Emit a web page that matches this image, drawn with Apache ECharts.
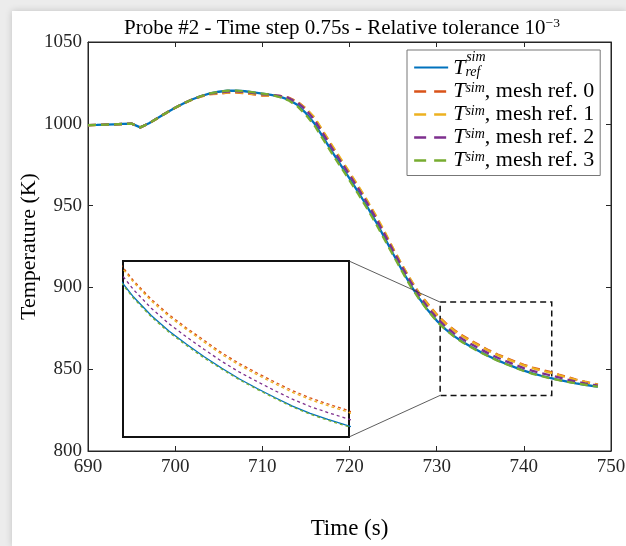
<!DOCTYPE html>
<html><head><meta charset="utf-8">
<script src="https://cdn.jsdelivr.net/npm/echarts@6/dist/echarts.min.js"></script>
<style>
html,body{margin:0;padding:0;background:#ececec;width:626px;height:546px;overflow:hidden}
#c{position:absolute;left:12px;top:11px;width:614px;height:535px;background:#fff;box-shadow:0 0 7px rgba(0,0,0,0.18)}
</style></head><body><div id="c"></div>
<script>
// ---- data ----
const time = [690,691,692,693,694,695,696,697,698,699,700,701,702,703,704,705,706,707,708,709,710,711,712,713,714,715,716,717,718,719,720,721,722,723,724,725,726,727,728,729,730,731,732,733,734,735,736,737,738,739,740,741,742,743,744,745,746,747,748,748.5];
const tRef = [999.2,999.3,999.5,999.7,999.9,1000.1,997.8,1000.3,1003.6,1006.8,1009.8,1012.6,1015.0,1017.0,1018.6,1019.6,1020.2,1020.3,1019.9,1019.2,1018.5,1017.7,1016.6,1014.8,1011.6,1006.5,1000.0,991.5,983.0,974.8,966.6,958.3,949.6,940.4,930.6,920.6,910.8,901.6,893.3,886.0,879.7,874.5,870.2,866.6,863.5,860.6,857.9,855.4,853.2,851.1,849.1,847.4,846.0,844.7,843.5,842.4,841.4,840.5,839.7,839.3];
const tMesh0 = [999.2,999.3,999.5,999.7,999.9,1000.1,997.8,1000.3,1003.6,1006.8,1009.8,1012.6,1015.0,1016.8,1018.1,1018.4,1019.0,1019.1,1018.7,1018.0,1017.3,1017.2,1017.1,1016.0,1013.6,1009.3,1003.2,994.7,986.2,978.0,969.8,961.5,952.8,943.6,933.8,923.6,913.8,904.6,896.3,889.8,883.5,878.3,874.0,870.4,867.3,864.4,861.5,859.0,856.8,854.7,852.7,851.0,849.6,848.3,846.7,845.2,843.7,842.4,841.2,840.6];
const tMesh1 = [999.1,999.2,999.4,999.6,999.8,1000.0,997.8,1000.2,1003.4,1006.6,1009.6,1012.4,1014.8,1016.8,1018.1,1018.6,1019.2,1019.3,1018.9,1018.2,1017.5,1017.2,1016.9,1015.8,1013.4,1009.3,1003.8,995.3,986.8,978.6,970.4,962.1,953.4,944.2,934.4,923.9,914.1,904.9,896.3,889.4,883.1,877.9,873.6,870.0,866.9,864.0,861.1,858.6,856.4,854.3,852.3,850.6,849.2,847.9,846.4,844.9,843.5,842.2,841.0,840.4];
const tMesh2 = [999.2,999.3,999.5,999.7,999.9,1000.1,997.8,1000.3,1003.6,1006.8,1009.8,1012.6,1015.0,1017.0,1018.4,1019.1,1019.7,1019.8,1019.4,1018.7,1018.0,1017.7,1017.1,1015.8,1013.1,1008.5,1002.2,993.7,985.2,977.0,968.8,960.5,951.8,942.6,932.8,922.6,912.8,903.6,895.1,887.7,881.4,876.2,871.9,868.3,865.2,862.3,859.5,857.0,854.8,852.7,850.7,849.0,847.6,846.3,845.0,843.7,842.5,841.4,840.4,839.9];
const tMesh3 = [999.2,999.3,999.5,999.7,999.9,1000.1,997.8,1000.3,1003.6,1006.8,1009.8,1012.6,1015.0,1017.0,1018.6,1019.6,1020.2,1020.3,1019.9,1019.2,1018.5,1017.7,1016.3,1014.3,1010.8,1005.5,998.8,990.3,981.8,973.6,965.4,957.1,948.4,939.2,929.4,919.8,910.0,900.8,892.8,885.7,879.4,874.2,869.9,866.3,863.2,860.3,857.7,855.2,853.0,850.9,848.9,847.2,845.8,844.5,843.3,842.2,841.3,840.5,839.7,839.3];
const seriesNames = ['ref','m0','m1','m2','m3'];
const seriesValues = [tRef,tMesh0,tMesh1,tMesh2,tMesh3];
const xTicks = {min:690,max:750,step:10};
const yTicks = {min:800,max:1050,step:50};
const zoomBox = {x0:730.4,x1:743.2,y0:834,y1:891};      // dashed region (data coords)
const insetRange = {x0:730.4,x1:743.2,y0:841.9,y1:882.9}; // inset axes range

// ---- styles ----
const colors = ['#0072BD','#D95319','#EDB120','#7E2F8E','#77AC30'];
const FONT = '"Liberation Serif", serif';
const AX = '#262626';

function pairs(v){ return time.map((t,i)=>[t,v[i]]); }

const chart = echarts.init(document.getElementById('c'), null, {renderer:'canvas'});

const series = [];
seriesNames.forEach((n,i)=>{
  series.push({
    name:n, type:'line', xAxisIndex:0, yAxisIndex:0, data:pairs(seriesValues[i]),
    symbol:'none', showSymbol:false, animation:false, clip:true,
    lineStyle:{color:colors[i], width:2.3, type: i===0?'solid':[8,5]},
    itemStyle:{color:colors[i]},
    markArea: i===0 ? {silent:true, itemStyle:{color:'rgba(0,0,0,0)', borderColor:'#111', borderWidth:1.5, borderType:[6,4]},
      data:[[{coord:[zoomBox.x0,zoomBox.y1]},{coord:[zoomBox.x1,zoomBox.y0]}]]} : undefined
  });
});
seriesNames.forEach((n,i)=>{
  series.push({
    name:n, type:'line', xAxisIndex:2, yAxisIndex:2, data:pairs(seriesValues[i]),
    symbol:'none', showSymbol:false, animation:false, clip:true, z:4,
    lineStyle:{color:colors[i], width:1.3, type: i===0?'solid':[3,3]},
    itemStyle:{color:colors[i]}
  });
});

const labelRich = {
  T:{fontFamily:FONT, fontStyle:'italic', fontSize:22, color:'#000', lineHeight:21},
  sup:{fontFamily:FONT, fontStyle:'italic', fontSize:14, color:'#000', verticalAlign:'top', lineHeight:21},
  sup0:{fontFamily:FONT, fontStyle:'italic', fontSize:14, color:'#000', lineHeight:2},
  gap:{width:13, lineHeight:2},
  sub:{fontFamily:FONT, fontStyle:'italic', fontSize:14, color:'#000', verticalAlign:'bottom', lineHeight:21},
  t:{fontFamily:FONT, fontSize:22, color:'#000', lineHeight:21}
};
const dashLegend = {type:[12,8], width:2.3};

const option = {
  animation:false,
  backgroundColor:'#fff',
  title:{
    text:'{a|Probe #2 - Time step 0.75s - Relative tolerance 10}{s|−3}',
    left:325, top:0, textAlign:'center',
    textStyle:{fontWeight:'normal', rich:{
      a:{fontFamily:FONT, fontSize:21, fontWeight:'normal', color:'#000', lineHeight:24},
      s:{fontFamily:FONT, fontSize:13.5, fontWeight:'normal', color:'#000', verticalAlign:'top', lineHeight:24}
    }}
  },
  legend:{
    orient:'vertical', left:395, top:39,
    data:seriesNames.map((n,i)=> i===0 ? {name:n} : {name:n, lineStyle:dashLegend}),
    itemWidth:34, itemHeight:14, itemGap:1,
    padding:[0,6,4,6],
    itemStyle:{opacity:0},
    borderColor:'#777', borderWidth:1, backgroundColor:'#fff',
    formatter:function(n){
      if(n==='ref') return '{gap|}{sup0|sim}\n{T|T}{sub|ref}';
      return '{T|T}{sup|sim}{t|, mesh ref. '+n.slice(1)+'}';
    },
    textStyle:{rich:labelRich}
  },
  grid:[
    {left:76, top:31, width:523, height:409, show:true, borderColor:AX, borderWidth:1, outerBoundsMode:'none', containLabel:false},
    {left:111, top:250, width:226, height:176, show:true, borderColor:'#111', borderWidth:2, backgroundColor:'#fff', outerBoundsMode:'none', containLabel:false}
  ],
  xAxis:[
    {gridIndex:0, type:'value', min:xTicks.min, max:xTicks.max, interval:xTicks.step, position:'bottom',
     name:'Time (s)', nameLocation:'middle', nameGap:66,
     nameTextStyle:{fontFamily:FONT, fontSize:23, color:'#000'},
     axisLine:{lineStyle:{color:AX}}, axisTick:{inside:true, length:5, lineStyle:{color:AX}},
     axisLabel:{fontFamily:FONT, fontSize:19, color:AX, margin:7, formatter:v=>String(v)}, splitLine:{show:false}},
    {gridIndex:0, type:'value', min:xTicks.min, max:xTicks.max, interval:xTicks.step, position:'top',
     axisLine:{lineStyle:{color:AX}}, axisTick:{inside:true, length:5, lineStyle:{color:AX}},
     axisLabel:{show:false}, splitLine:{show:false}},
    {gridIndex:1, type:'value', min:insetRange.x0, max:insetRange.x1, show:false, splitLine:{show:false}}
  ],
  yAxis:[
    {gridIndex:0, type:'value', min:yTicks.min, max:yTicks.max, interval:yTicks.step, position:'left',
     name:'Temperature (K)', nameLocation:'middle', nameGap:48, nameMoveOverlap:false,
     nameTextStyle:{fontFamily:FONT, fontSize:22, color:'#000'},
     axisLine:{show:true, lineStyle:{color:AX}}, axisTick:{show:true, inside:true, length:5, lineStyle:{color:AX}},
     axisLabel:{fontFamily:FONT, fontSize:19, color:AX, margin:6, formatter:v=>String(v)}, splitLine:{show:false}},
    {gridIndex:0, type:'value', min:yTicks.min, max:yTicks.max, interval:yTicks.step, position:'right',
     axisLine:{show:true, lineStyle:{color:AX}}, axisTick:{show:true, inside:true, length:5, lineStyle:{color:AX}},
     axisLabel:{show:false}, splitLine:{show:false}},
    {gridIndex:1, type:'value', min:insetRange.y0, max:insetRange.y1, show:false, splitLine:{show:false}}
  ],
  series:series
};
chart.setOption(option);

// connector lines between inset and zoomed region
const pBoxTL = chart.convertToPixel({xAxisIndex:0, yAxisIndex:0}, [zoomBox.x0, zoomBox.y1]);
const pBoxBL = chart.convertToPixel({xAxisIndex:0, yAxisIndex:0}, [zoomBox.x0, zoomBox.y0]);
const pInTR = chart.convertToPixel({xAxisIndex:2, yAxisIndex:2}, [insetRange.x1, insetRange.y1]);
const pInBR = chart.convertToPixel({xAxisIndex:2, yAxisIndex:2}, [insetRange.x1, insetRange.y0]);
chart.setOption({graphic:[
  {type:'line', shape:{x1:pInTR[0], y1:pInTR[1], x2:pBoxTL[0], y2:pBoxTL[1]}, style:{stroke:'#333', lineWidth:0.8}, z:10, silent:true},
  {type:'line', shape:{x1:pInBR[0], y1:pInBR[1], x2:pBoxBL[0], y2:pBoxBL[1]}, style:{stroke:'#333', lineWidth:0.8}, z:10, silent:true}
]});
</script></body></html>
